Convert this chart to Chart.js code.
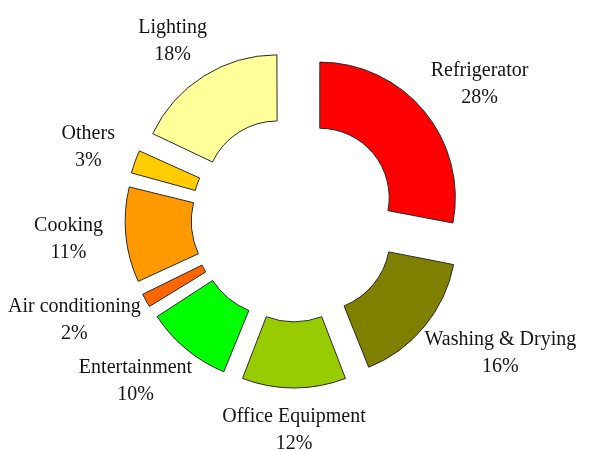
<!DOCTYPE html>
<html>
<head>
<meta charset="utf-8">
<script src="https://cdn.jsdelivr.net/npm/chart.js@4/dist/chart.umd.min.js"></script>
<style>
  html, body { margin: 0; padding: 0; background: #ffffff; }
  #wrap { width: 599px; height: 451px; position: relative; }
</style>
</head>
<body>
<div id="wrap"><canvas id="c"></canvas></div>
<script>
// ---- data ----
const categories = ['Refrigerator', 'Washing & Drying', 'Office Equipment', 'Entertainment',
                    'Air conditioning', 'Cooking', 'Others', 'Lighting'];
const shares = [28, 16, 12, 10, 2, 11, 3, 18];
const sliceColors = ['#FF0000', '#808000', '#99CC00', '#00FF00',
                     '#FF6600', '#FF9900', '#FFCC00', '#FFFF99'];

const total = shares.reduce((a, b) => a + b, 0);
const EXPLODE = 34;          // px each slice is pushed out
const OFFSET_DIV = (Chart.version && Chart.version.charAt(0) === '3') ? 2 : 4;
const LABEL_GAP_X = 23;
const LABEL_GAP_Y = 42;
const LINE_H = 27;
const EDGE_MARGIN = 8;
const FONT = '20px "Liberation Serif", "Times New Roman", serif';

function sliceOffset(ctx) {
  const v = shares[ctx.dataIndex];
  const circ = v / total * Math.PI * 2;
  const fix = 1 - Math.sin(Math.min(Math.PI, circ));
  return EXPLODE * OFFSET_DIV / (1 + fix);
}

const outsideLabels = {
  id: 'outsideLabels',
  afterDatasetsDraw(chart) {
    const ctx = chart.ctx;
    const meta = chart.getDatasetMeta(0);
    ctx.save();
    ctx.font = FONT;
    ctx.fillStyle = '#141414';
    ctx.textAlign = 'center';
    ctx.textBaseline = 'middle';
    meta.data.forEach((arc, i) => {
      const p = arc.getProps(['x', 'y', 'startAngle', 'endAngle', 'outerRadius'], true);
      const a = (p.startAngle + p.endAngle) / 2;
      const ux = Math.cos(a), uy = Math.sin(a);
      const l1 = categories[i], l2 = shares[i] + '%';
      const hw = Math.max(ctx.measureText(l1).width, ctx.measureText(l2).width) / 2;
      const base = p.outerRadius + EXPLODE;
      let cx = p.x + ux * (base + LABEL_GAP_X + hw);
      const cy = p.y + uy * (base + LABEL_GAP_Y);
      cx = Math.max(EDGE_MARGIN + hw, Math.min(chart.width - EDGE_MARGIN - hw, cx));
      ctx.fillText(l1, cx, cy - LINE_H / 2);
      ctx.fillText(l2, cx, cy + LINE_H / 2);
    });
    ctx.restore();
  }
};

new Chart(document.getElementById('c'), {
  type: 'doughnut',
  data: {
    labels: categories,
    datasets: [{
      data: shares,
      backgroundColor: sliceColors,
      borderColor: '#2a2a2a',
      borderWidth: 1,
      offset: sliceOffset,
      hoverOffset: 0,
      clip: false
    }]
  },
  options: {
    responsive: true,
    maintainAspectRatio: false,
    animation: false,
    events: [],
    radius: 135,
    cutout: '51%',
    layout: { padding: { left: 0, right: 11, top: 0, bottom: 13 } },
    plugins: {
      legend: { display: false },
      tooltip: { enabled: false },
      title: { display: false }
    }
  },
  plugins: [outsideLabels]
});
</script>
</body>
</html>
